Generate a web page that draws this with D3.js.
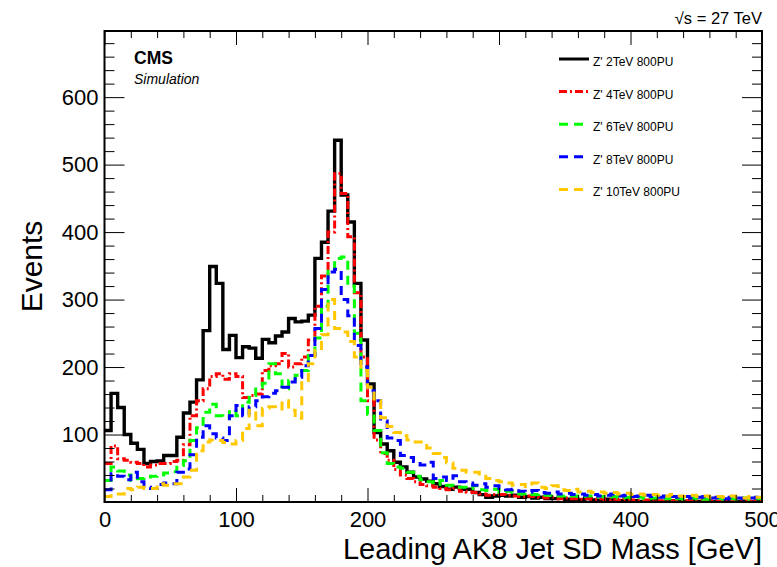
<!DOCTYPE html>
<html>
<head>
<meta charset="utf-8">
<script src="https://cdn.jsdelivr.net/npm/d3@7"></script>
<style>
  html, body { margin: 0; padding: 0; background: #fff; }
  svg { display: block; }
  text { font-family: "Liberation Sans", Arial, Helvetica, sans-serif; fill: #000; }
</style>
</head>
<body>
<svg id="chart" width="777" height="567"></svg>
<script>
// Leading AK8 jet soft-drop mass, 5 GeV bins from 0 to 500 GeV
const binWidth = 5;
const massRange = [0, 500];

const series = ["Z' 2TeV 800PU", "Z' 4TeV 800PU", "Z' 6TeV 800PU", "Z' 8TeV 800PU", "Z' 10TeV 800PU"];

const zp2 = [
  106, 161, 140, 100, 87, 78, 57, 60, 61, 69,
  69, 96, 132, 148, 181, 254, 349, 324, 226, 247,
  214, 230, 228, 213, 241, 236, 246, 252, 272, 267,
  268, 277, 361, 385, 431, 536, 455, 415, 324, 240,
  175, 103, 86, 76, 59, 52, 44, 37, 34, 31,
  27, 23, 19, 22, 19, 19, 14, 11, 7, 9,
  10, 9, 10, 7, 8, 6, 7, 5, 5, 6,
  4, 4, 3, 5, 3, 2, 4, 3, 2, 3,
  2, 1, 2, 2, 1, 1, 2, 1, 1, 2,
  1, 1, 0, 1, 1, 0, 1, 1, 0, 1
];
const zp4 = [
  57, 83, 64, 62, 59, 57, 52, 55, 57, 57,
  60, 62, 85, 128, 150, 168, 186, 190, 182, 190,
  186, 155, 158, 160, 195, 202, 205, 220, 200, 205,
  215, 240, 290, 335, 400, 487, 457, 393, 310, 215,
  150, 92, 72, 62, 48, 40, 35, 30, 26, 24,
  22, 20, 18, 20, 16, 15, 14, 12, 10, 11,
  11, 10, 9, 8, 9, 8, 7, 6, 7, 5,
  6, 5, 4, 5, 4, 5, 3, 4, 3, 4,
  3, 2, 3, 4, 2, 3, 2, 3, 2, 2,
  3, 2, 2, 1, 2, 3, 2, 2, 1, 2
];
const zp6 = [
  32, 52, 46, 40, 32, 35, 37, 38, 40, 43,
  45, 54, 61, 91, 110, 133, 145, 128, 125, 136,
  128, 148, 158, 170, 176, 205, 190, 168, 180, 188,
  195, 217, 243, 290, 345, 361, 363, 320, 250, 150,
  130, 106, 73, 57, 52, 50, 44, 38, 33, 30,
  26, 32, 25, 24, 22, 20, 24, 18, 17, 19,
  15, 16, 14, 12, 13, 11, 12, 10, 11, 9,
  10, 9, 8, 9, 7, 8, 7, 8, 6, 7,
  6, 7, 5, 6, 6, 5, 7, 5, 4, 6,
  5, 4, 5, 6, 4, 5, 4, 6, 4, 5
];
const zp8 = [
  18, 42, 38, 33, 44, 30, 22, 20, 26, 28,
  27, 44, 49, 70, 96, 113, 101, 95, 91, 128,
  143, 128, 141, 150, 156, 161, 165, 170, 178, 185,
  202, 217, 257, 315, 341, 345, 300, 276, 232, 200,
  165, 150, 120, 95, 91, 69, 66, 60, 55, 59,
  35, 37, 32, 39, 30, 28, 25, 27, 22, 24,
  20, 18, 19, 16, 15, 17, 14, 13, 15, 12,
  13, 11, 12, 10, 11, 9, 10, 12, 9, 10,
  8, 9, 10, 8, 7, 9, 8, 7, 8, 6,
  7, 8, 6, 7, 5, 7, 6, 5, 6, 7
];
const zp10 = [
  8, 12, 12, 20, 18, 22, 20, 20, 27, 25,
  27, 27, 37, 47, 76, 89, 92, 91, 88, 86,
  91, 109, 136, 113, 139, 141, 138, 150, 136, 124,
  180, 205, 225, 248, 300, 257, 252, 238, 215, 195,
  170, 150, 125, 112, 103, 98, 92, 89, 89, 80,
  72, 66, 58, 50, 47, 44, 44, 38, 35, 32,
  30, 28, 25, 26, 23, 28, 22, 20, 24, 18,
  17, 19, 15, 16, 14, 15, 13, 14, 12, 13,
  11, 12, 10, 11, 10, 9, 11, 9, 8, 10,
  8, 9, 7, 8, 7, 9, 7, 6, 8, 7
];

const xMajorTicks = [0, 100, 200, 300, 400, 500];
const yMajorTicks = [100, 200, 300, 400, 500, 600];
const yMax = 698;

const colors = ["#000000", "#ff0000", "#00ff00", "#0000ff", "#ffc800"];
const dashes = [null, "8,3,2,3", "9,6", "9,6", "9,6"];
const histograms = [zp2, zp4, zp6, zp8, zp10];

const svg = d3.select("#chart");
const frame = { left: 104.5, right: 762, top: 31, bottom: 502 };

const x = d3.scaleLinear().domain(massRange).range([frame.left, frame.right]);
const y = d3.scaleLinear().domain([0, yMax]).range([frame.bottom, frame.top]);

svg.append("defs").append("clipPath").attr("id", "plot-clip")
  .append("rect")
  .attr("x", frame.left).attr("y", frame.top)
  .attr("width", frame.right - frame.left).attr("height", frame.bottom - frame.top);

// Histogram outlines as steps
const stepLine = d3.line()
  .x(d => x(d[0]))
  .y(d => y(d[1]))
  .curve(d3.curveStepAfter);

const plot = svg.append("g").attr("clip-path", "url(#plot-clip)");
histograms.forEach((h, k) => {
  const pts = h.map((v, i) => [i * binWidth, v]);
  pts.push([h.length * binWidth, h[h.length - 1]]);
  plot.append("path")
    .attr("d", stepLine(pts))
    .attr("fill", "none")
    .attr("stroke", colors[k])
    .attr("stroke-width", k === 0 ? 3.4 : 3)
    .attr("stroke-dasharray", dashes[k])
    .attr("stroke-linejoin", "miter");
});

// Axes with inward ticks on all four sides
const xMinor = d3.range(0, 501, 20).filter(v => v % 100 !== 0);
const yMinor = d3.range(20, yMax, 20).filter(v => v % 100 !== 0);

function styleAxis(g) {
  g.select(".domain").remove();
  g.selectAll(".tick line").attr("stroke", "#000").attr("stroke-width", 1);
  g.selectAll(".tick text").style("font-size", "22px").attr("fill", "#000")
    .attr("font-family", null)
    .style("font-family", "'Liberation Sans', Arial, Helvetica, sans-serif");
}

svg.append("g").attr("transform", `translate(0,${frame.bottom})`)
  .call(d3.axisBottom(x).tickValues(xMajorTicks).tickSize(-14).tickPadding(9).tickFormat(d3.format("d")))
  .call(styleAxis);
svg.append("g").attr("transform", `translate(0,${frame.bottom})`)
  .call(d3.axisBottom(x).tickValues(xMinor).tickSize(-7).tickFormat(""))
  .call(styleAxis);
svg.append("g").attr("transform", `translate(0,${frame.top})`)
  .call(d3.axisTop(x).tickValues(xMajorTicks).tickSize(-14).tickFormat(""))
  .call(styleAxis);
svg.append("g").attr("transform", `translate(0,${frame.top})`)
  .call(d3.axisTop(x).tickValues(xMinor).tickSize(-7).tickFormat(""))
  .call(styleAxis);

svg.append("g").attr("transform", `translate(${frame.left},0)`)
  .call(d3.axisLeft(y).tickValues(yMajorTicks).tickSize(-20).tickPadding(6).tickFormat(d3.format("d")))
  .call(styleAxis);
svg.append("g").attr("transform", `translate(${frame.left},0)`)
  .call(d3.axisLeft(y).tickValues(yMinor).tickSize(-10).tickFormat(""))
  .call(styleAxis);
svg.append("g").attr("transform", `translate(${frame.right},0)`)
  .call(d3.axisRight(y).tickValues(yMajorTicks).tickSize(-20).tickFormat(""))
  .call(styleAxis);
svg.append("g").attr("transform", `translate(${frame.right},0)`)
  .call(d3.axisRight(y).tickValues(yMinor).tickSize(-10).tickFormat(""))
  .call(styleAxis);

// Frame
svg.append("rect")
  .attr("x", frame.left).attr("y", frame.top)
  .attr("width", frame.right - frame.left).attr("height", frame.bottom - frame.top)
  .attr("fill", "none").attr("stroke", "#000").attr("stroke-width", 2);

// Axis titles
svg.append("text")
  .attr("x", frame.right).attr("y", 559)
  .attr("text-anchor", "end")
  .style("font-size", "29px")
  .text("Leading AK8 Jet SD Mass [GeV]");

svg.append("text")
  .attr("transform", `translate(42,${(frame.top + frame.bottom) / 2}) rotate(-90)`)
  .attr("text-anchor", "middle")
  .style("font-size", "30px")
  .text("Events");

// Labels
svg.append("text").attr("x", 134).attr("y", 64)
  .style("font-size", "17.5px").style("font-weight", "bold").text("CMS");
svg.append("text").attr("x", 134).attr("y", 84)
  .style("font-size", "14px").style("font-style", "italic").text("Simulation");
svg.append("text").attr("x", frame.right).attr("y", 24)
  .attr("text-anchor", "end").style("font-size", "16.5px").text("\u221As = 27 TeV");

// Legend
const legend = svg.append("g").attr("transform", "translate(559,59)");
series.forEach((name, k) => {
  const row = legend.append("g").attr("transform", `translate(0,${k * 32.6})`);
  row.append("line")
    .attr("x1", 0).attr("x2", 30).attr("y1", 0).attr("y2", 0)
    .attr("stroke", colors[k]).attr("stroke-width", 3)
    .attr("stroke-dasharray", dashes[k]);
  row.append("text")
    .attr("x", 34).attr("y", 7)
    .style("font-size", "12px")
    .text(name);
});
</script>
</body>
</html>
